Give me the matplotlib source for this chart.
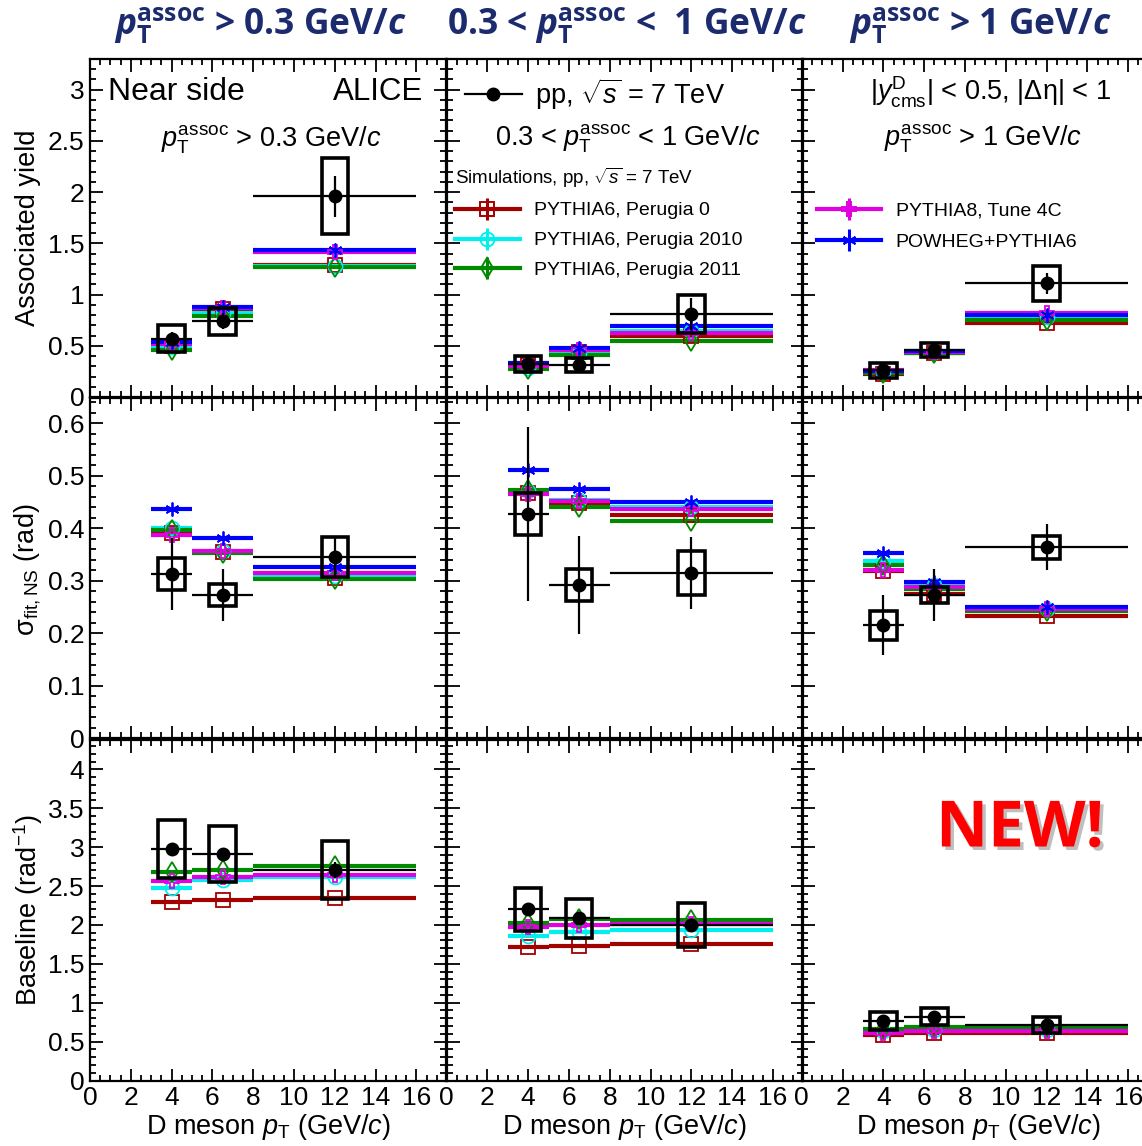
import matplotlib
matplotlib.use("Agg")
import matplotlib.pyplot as plt
import matplotlib.patheffects as pe
from matplotlib.patches import Rectangle
from matplotlib.lines import Line2D
from matplotlib.ticker import MultipleLocator, FuncFormatter
import numpy as np

plt.rcParams['font.family'] = ['Liberation Sans', 'DejaVu Sans']
plt.rcParams['mathtext.fontset'] = 'custom'
plt.rcParams['mathtext.rm'] = 'Liberation Sans'
plt.rcParams['mathtext.it'] = 'Liberation Sans:italic'
plt.rcParams['mathtext.bf'] = 'Open Sans:bold'
if 'mathtext.bfit' in plt.rcParams:
    plt.rcParams['mathtext.bfit'] = 'Open Sans:bold:italic'
    BFIT = r'\mathbfit'
else:
    BFIT = r'\mathbf'

# D meson pT bins
bin_lo = np.array([3.0, 5.0, 8.0])
bin_hi = np.array([5.0, 8.0, 16.0])
bin_x = np.array([4.0, 6.5, 12.0])

# columns: pT assoc > 0.3, 0.3-1, > 1 GeV/c
yield_data = [[0.57, 0.74, 1.96], [0.32, 0.31, 0.81], [0.26, 0.46, 1.11]]
yield_stat = [[0.06, 0.08, 0.20], [0.06, 0.05, 0.16], [0.04, 0.04, 0.10]]
yield_syst = [[0.13, 0.13, 0.37], [0.08, 0.07, 0.19], [0.07, 0.07, 0.17]]
yield_perugia0 = [[0.50, 0.86, 1.29], [0.31, 0.44, 0.60], [0.22, 0.43, 0.72]]
yield_perugia2010 = [[0.49, 0.82, 1.28], [0.28, 0.43, 0.64], [0.24, 0.44, 0.78]]
yield_perugia2011 = [[0.46, 0.79, 1.27], [0.27, 0.41, 0.55], [0.23, 0.43, 0.75]]
yield_pythia8 = [[0.52, 0.87, 1.42], [0.30, 0.46, 0.62], [0.26, 0.44, 0.82]]
yield_powheg = [[0.54, 0.88, 1.44], [0.33, 0.48, 0.69], [0.25, 0.45, 0.80]]

sigma_data = [[0.313, 0.273, 0.345], [0.427, 0.292, 0.315], [0.215, 0.273, 0.364]]
sigma_stat = [[0.068, 0.050, 0.040], [0.166, 0.093, 0.068], [0.057, 0.050, 0.044]]
sigma_syst = [[0.030, 0.021, 0.038], [0.040, 0.030, 0.042], [0.027, 0.016, 0.022]]
sigma_perugia0 = [[0.390, 0.355, 0.306], [0.467, 0.449, 0.425], [0.318, 0.275, 0.232]]
sigma_perugia2010 = [[0.400, 0.356, 0.310], [0.470, 0.453, 0.440], [0.338, 0.292, 0.246]]
sigma_perugia2011 = [[0.397, 0.352, 0.303], [0.472, 0.440, 0.413], [0.330, 0.285, 0.243]]
sigma_pythia8 = [[0.387, 0.357, 0.315], [0.465, 0.451, 0.436], [0.320, 0.288, 0.247]]
sigma_powheg = [[0.437, 0.382, 0.326], [0.510, 0.475, 0.450], [0.352, 0.297, 0.250]]

base_data = [[2.975, 2.907, 2.706], [2.20, 2.085, 2.00], [0.765, 0.82, 0.713]]
base_stat = [[0.08, 0.08, 0.10], [0.05, 0.05, 0.05], [0.03, 0.03, 0.03]]
base_syst = [[0.37, 0.36, 0.375], [0.28, 0.25, 0.28], [0.12, 0.11, 0.10]]
base_perugia0 = [[2.29, 2.32, 2.35], [1.72, 1.73, 1.75], [0.59, 0.61, 0.61]]
base_perugia2010 = [[2.48, 2.58, 2.61], [1.86, 1.91, 1.93], [0.64, 0.65, 0.65]]
base_perugia2011 = [[2.68, 2.71, 2.76], [2.03, 2.07, 2.06], [0.66, 0.684, 0.69]]
base_pythia8 = [[2.57, 2.62, 2.64], [1.97, 2.00, 2.01], [0.615, 0.63, 0.64]]

model_names = ['PYTHIA6, Perugia 0', 'PYTHIA6, Perugia 2010', 'PYTHIA6, Perugia 2011',
               'PYTHIA8, Tune 4C', 'POWHEG+PYTHIA6']
model_colors = ['#a30000', '#00f0f0', '#008a00', '#e000e0', '#0000ff']
model_markers = ['s', 'o', 'd', 'P', (6, 2, 0)]

rows = [
    dict(data=yield_data, stat=yield_stat, syst=yield_syst,
         models=[yield_perugia0, yield_perugia2010, yield_perugia2011, yield_pythia8, yield_powheg],
         ymax=3.30, major=0.5, minor=0.1),
    dict(data=sigma_data, stat=sigma_stat, syst=sigma_syst,
         models=[sigma_perugia0, sigma_perugia2010, sigma_perugia2011, sigma_pythia8, sigma_powheg],
         ymax=0.648, major=0.1, minor=0.02),
    dict(data=base_data, stat=base_stat, syst=base_syst,
         models=[base_perugia0, base_perugia2010, base_perugia2011, base_pythia8, None],
         ymax=4.377, major=0.5, minor=0.1),
]

W, H = 1142, 1146
fig = plt.figure(figsize=(W / 100, H / 100), dpi=100)

col_left = [90, 446.5, 801.8]
col_width = 356
row_top = [59, 398, 740]
row_height = [338, 340.3, 340.5]


def px_axes(left, top, w, h):
    return fig.add_axes([left / W, 1 - (top + h) / H, w / W, h / H])


def legend_key(m):
    # horizontal bar, short vertical bar and open marker, drawn on top of each other
    col = model_colors[m]
    return (Line2D([], [], color=col, lw=3.0),
            Line2D([], [], color=col, marker='|', ms=16, mew=2.2, ls='none'),
            Line2D([], [], color=col, marker=model_markers[m], ms=10, mfc='none',
                   mec=col, mew=1.4, ls='none'))


xerr = [bin_x - bin_lo, bin_hi - bin_x]
axes = [[None] * 3 for _ in range(3)]

for r, row in enumerate(rows):
    for c in range(3):
        ax = px_axes(col_left[c], row_top[r], col_width, row_height[r])
        axes[r][c] = ax
        ax.set_xlim(0, 17.45)
        ax.set_ylim(0, row['ymax'])

        for m, vals in enumerate(row['models']):
            if vals is None:
                continue
            ax.errorbar(bin_x, vals[c], xerr=xerr, fmt='', marker=model_markers[m],
                        linestyle='none', color=model_colors[m], mfc='none',
                        mec=model_colors[m], mew=1.3, ms=10, elinewidth=3.0, capsize=0)

        for xi, yi, s in zip(bin_x, row['data'][c], row['syst'][c]):
            ax.add_patch(Rectangle((xi - 0.65, yi - s), 1.3, 2 * s, fill=False,
                                   lw=2.6, ec='k', zorder=5))
        ax.errorbar(bin_x, row['data'][c], xerr=xerr, yerr=row['stat'][c], fmt='o',
                    color='k', ms=9, elinewidth=1.6, capsize=0, zorder=6)

        ax.xaxis.set_major_locator(MultipleLocator(2))
        ax.xaxis.set_minor_locator(MultipleLocator(0.5))
        ax.yaxis.set_major_locator(MultipleLocator(row['major']))
        ax.yaxis.set_minor_locator(MultipleLocator(row['minor']))
        ax.yaxis.set_major_formatter(FuncFormatter(lambda v, p: '%g' % round(v, 3)))
        ax.tick_params(which='both', direction='in', top=True, right=True, width=1.3,
                       labelsize=19, pad=4)
        ax.tick_params(which='major', length=9)
        ax.tick_params(which='minor', length=4.5)
        for sp in ax.spines.values():
            sp.set_linewidth(1.6)
        if c > 0:
            ax.tick_params(labelleft=False)
        if r < 2:
            ax.tick_params(labelbottom=False)
        ax.patch.set_alpha(0)

# panel annotations
a = axes[0][0]
a.text(0.05, 0.902, 'Near side', transform=a.transAxes, fontsize=23, ha='left', va='center')
a.text(0.935, 0.902, 'ALICE', transform=a.transAxes, fontsize=22.5, ha='right', va='center')
a.text(0.51, 0.76, r'$p_{\rm T}^{\rm assoc}$ > 0.3 GeV/$c$', transform=a.transAxes,
       fontsize=19.5, ha='center', va='center')

a = axes[0][1]
a.text(0.51, 0.763, r'0.3 < $p_{\rm T}^{\rm assoc}$ < 1 GeV/$c$', transform=a.transAxes,
       fontsize=19.5, ha='center', va='center')
data_leg = a.legend([Line2D([], [], color='k', marker='o', ms=9, lw=1.6)],
                    [r'pp, $\sqrt{s}$ = 7 TeV'], loc='center left',
                    bbox_to_anchor=(0.052, 0.896), frameon=False, fontsize=19.5,
                    handlelength=2.1, handletextpad=0.5, borderpad=0, borderaxespad=0)
a.add_artist(data_leg)
a.legend([legend_key(0), legend_key(1), legend_key(2)], model_names[:3], loc='upper left',
         bbox_to_anchor=(0.025, 0.685), frameon=False, fontsize=14,
         title=r'Simulations, pp, $\sqrt{s}$ = 7 TeV', title_fontsize=13.5,
         alignment='left', labelspacing=0.63, handlelength=3.3, handletextpad=0.75,
         borderpad=0, borderaxespad=0)

a = axes[0][2]
a.text(0.53, 0.90, r'|$y^{\rm D}_{\rm cms}$| < 0.5, |Δη| < 1', transform=a.transAxes,
       fontsize=19.5, ha='center', va='center')
a.text(0.51, 0.763, r'$p_{\rm T}^{\rm assoc}$ > 1 GeV/$c$', transform=a.transAxes,
       fontsize=19.5, ha='center', va='center')
a.legend([legend_key(3), legend_key(4)], model_names[3:], loc='upper left',
         bbox_to_anchor=(0.043, 0.577), frameon=False, fontsize=14,
         labelspacing=0.7, handlelength=3.3, handletextpad=0.75,
         borderpad=0, borderaxespad=0)

# axis titles
fig.text(28 / W, 1 - 228 / H, 'Associated yield', rotation=90, fontsize=19.5,
         ha='center', va='center')
fig.text(28 / W, 1 - 570 / H, r'σ$_{\rm fit,NS}$ (rad)', rotation=90, fontsize=19.5,
         ha='center', va='center')
fig.text(28 / W, 1 - 910 / H, r'Baseline (rad$^{-1}$)', rotation=90, fontsize=19.5,
         ha='center', va='center')
for xc in [268, 624, 978]:
    fig.text(xc / W, 1 - 1127 / H, r'D meson $p_{\rm T}$ (GeV/$c$)', fontsize=19.5,
             ha='center', va='center')

# column headers
title_color = '#1c2b6e'
pt = r'$%s{p}_{\mathbf{T}}^{\mathbf{assoc}}$' % BFIT
cc = r'$%s{c}$' % BFIT
titles = [pt + ' > 0.3 GeV/' + cc, '0.3 < ' + pt + ' <  1 GeV/' + cc, pt + ' > 1 GeV/' + cc]
for xc, t in zip([260, 627, 980], titles):
    fig.text(xc / W, 1 - 26 / H, t, fontsize=25.5, fontweight='bold', family='Open Sans',
             color=title_color, ha='center', va='center')

fig.text(1020 / W, 1 - 830 / H, 'NEW!', fontsize=46, fontweight='bold', family='Open Sans',
         color='#ff0000', ha='center', va='center',
         path_effects=[pe.withSimplePatchShadow(offset=(2.5, -2.5), shadow_rgbFace='#808080',
                                                alpha=0.5)])

fig.savefig('out.png', dpi=100)
